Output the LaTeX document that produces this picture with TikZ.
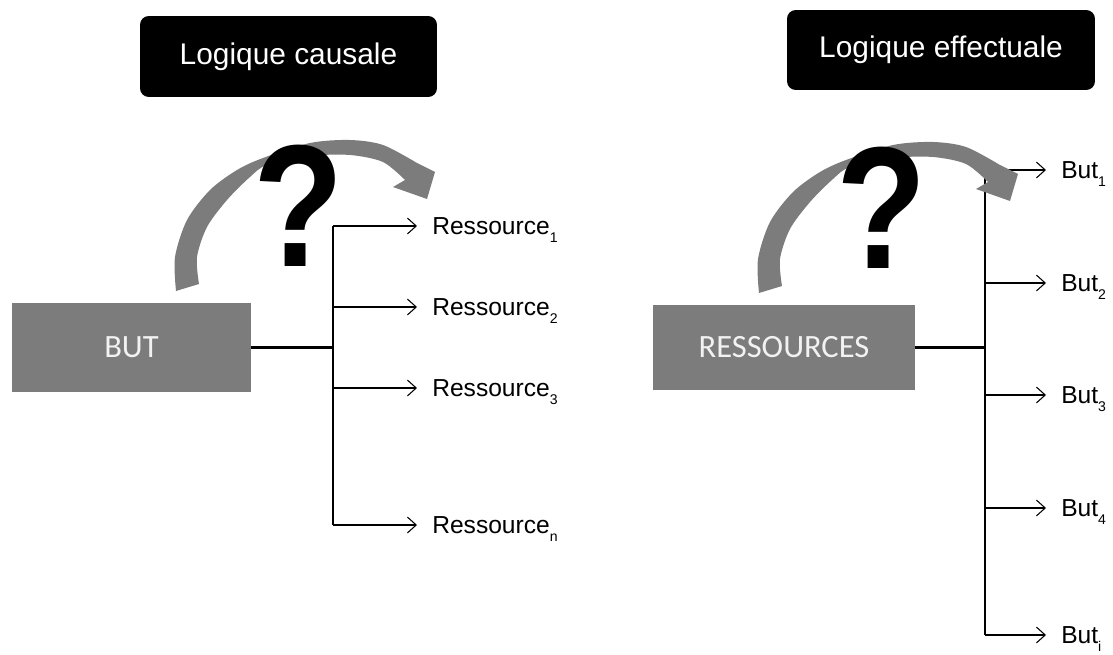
\documentclass[tikz,border=0pt]{standalone}
\usepackage{fontspec}
\setmainfont{Liberation Sans}
\newfontfamily\boxfont{Carlito}
\usetikzlibrary{positioning,arrows.meta}
\definecolor{boxgray}{HTML}{7C7C7C}
\newcommand{\idx}[1]{\raisebox{-4.5pt}{\fontsize{8}{8}\selectfont #1}}
\tikzstyle{titre}=[fill=black, text=white, rounded corners=5pt, inner sep=0pt, font=\fontsize{17}{17}\selectfont]
\tikzstyle{bloc}=[fill=boxgray, text=white!95!black, inner sep=0pt, font=\boxfont\fontsize{18.5}{18.5}\selectfont]
\tikzstyle{lab}=[anchor=base west, inner ysep=0pt, inner xsep=8.5pt, font=\fontsize{14}{14}\selectfont]
\tikzstyle{quest}=[inner sep=0pt, xscale=0.85, transform shape, font=\fontsize{99}{99}\selectfont\bfseries]

\begin{document}
\begin{tikzpicture}[x=0.02cm,y=-0.02cm,>={Straight Barb[length=5pt,width=9pt]}]
\useasboundingbox (0,0) rectangle (1113,655);

% logique causale
\node[titre, minimum width=5.94cm, minimum height=1.62cm] at (288.5,56.5) (causale) {Logique causale};
\node[bloc, minimum width=4.78cm, minimum height=1.78cm] at (131.5,347.5) (but) {BUT};
\foreach \y/\i [count=\k] in {226/1,307/2,388/3,525/n} {
  \coordinate (cr\k) at (333,\y);
  \node[lab] (res\k) at (417,\y+8.5) {Ressource\idx{\i}};
  \draw[->,line width=0.6pt] (cr\k) -- (cr\k -| res\k.west);
}
\draw[line width=0.8pt] (cr1) -- (cr4);
\draw[line width=1.4pt] (but.east) -- (but.east -| cr1);

% logique effectuale
\node[titre, minimum width=6.16cm, minimum height=1.6cm] at (941,50) (effect) {Logique effectuale};
\node[bloc, minimum width=5.24cm, minimum height=1.7cm] at (784,347.5) (ress) {RESSOURCES};
\foreach \y/\i [count=\k] in {170/1,283/2,395/3,508/4,635/i} {
  \coordinate (cb\k) at (985,\y);
  \node[lab] (but\k) at (1046,\y+8.5) {But\idx{\i}};
  \draw[->,line width=0.6pt] (cb\k) -- (cb\k -| but\k.west);
}
\draw[line width=0.8pt] (cb1) -- (cb5);
\draw[line width=1.4pt] (ress.east) -- (ress.east -| cb1);

% fleches courbes et points d'interrogation
\foreach \dx/\dy/\nom in {0/0/qcaus,583/2/qeff} {
\begin{scope}[shift={(\dx,\dy)}]
\fill[boxgray] plot[smooth] coordinates {(176,291) (175,257) (187,220) (210,190) (237,170) (263,158) (310,143) (350,140) (383,145) (417,163)}
  -- (435,172) -- (427,199) -- (393,187) -- (405,180)
  -- plot[smooth] coordinates {(405,180) (383,162) (350,155) (310,156) (267,165) (250,177) (227,200) (207,227) (197,257) (199,284)} -- cycle;
\node[quest] (\nom) at (298.5,206) {?};
\end{scope}
}
\end{tikzpicture}
\end{document}
